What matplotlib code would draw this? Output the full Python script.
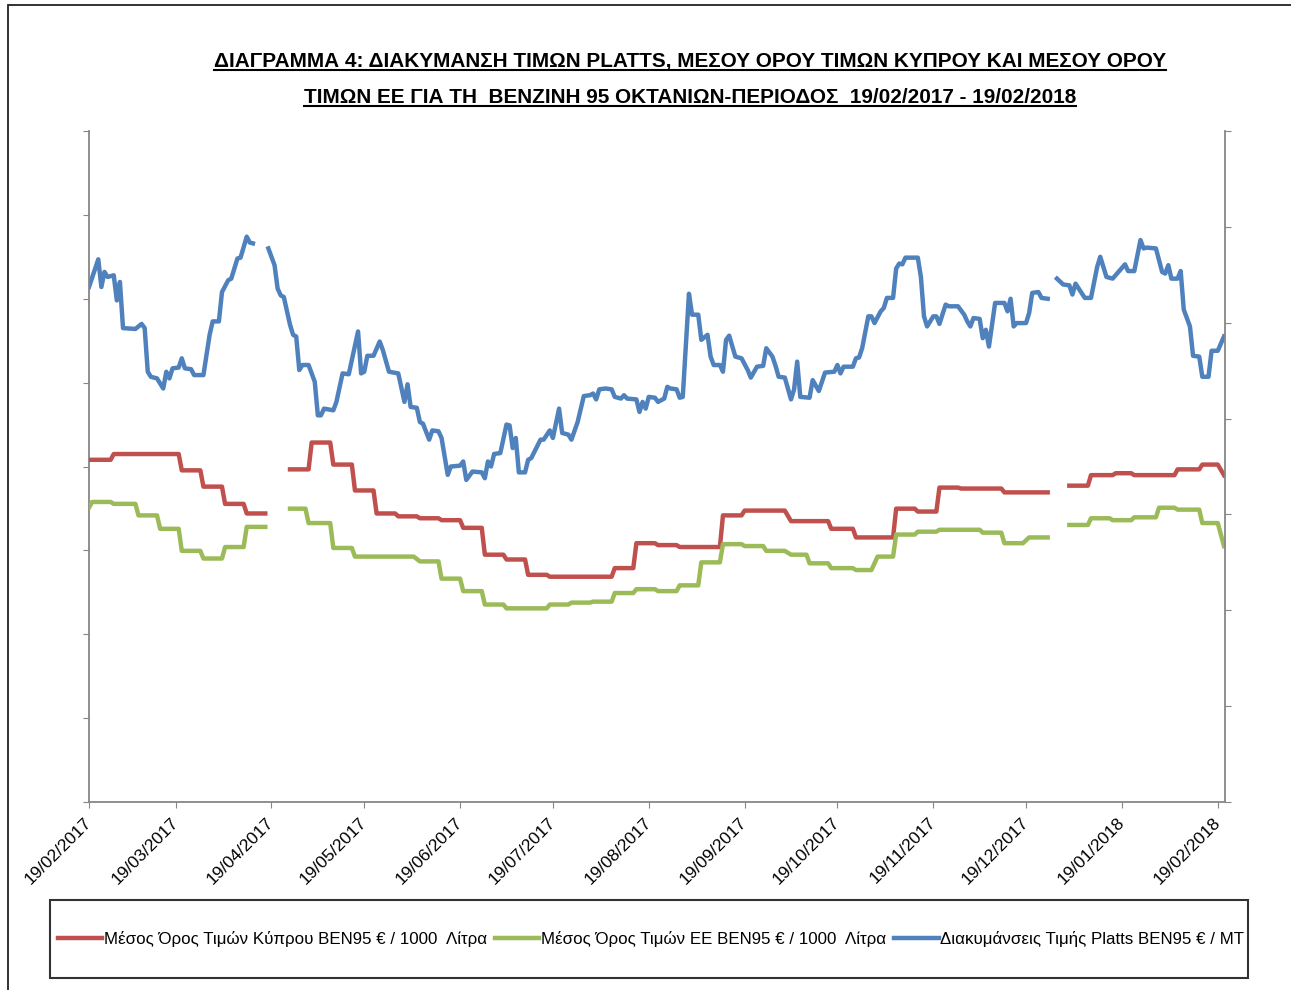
import numpy as np
import matplotlib
matplotlib.use("Agg")
import matplotlib.pyplot as plt
import matplotlib.dates as mdates
from matplotlib.patches import Rectangle
from matplotlib.lines import Line2D

plt.rcParams['font.family'] = ['Liberation Sans', 'DejaVu Sans']

START = np.datetime64('2017-02-19')

title_lines = ["ΔΙΑΓΡΑΜΜΑ 4: ΔΙΑΚΥΜΑΝΣΗ ΤΙΜΩΝ PLATTS, ΜΕΣΟΥ ΟΡΟΥ ΤΙΜΩΝ ΚΥΠΡΟΥ ΚΑΙ ΜΕΣΟΥ ΟΡΟΥ",
               "ΤΙΜΩΝ ΕΕ ΓΙΑ ΤΗ  ΒΕΝΖΙΝΗ 95 ΟΚΤΑΝΙΩΝ-ΠΕΡΙΟΔΟΣ  19/02/2017 - 19/02/2018"]
labels = ["Μέσος Όρος Τιμών Κύπρου ΒΕΝ95 € / 1000  Λίτρα",
          "Μέσος Όρος Τιμών ΕΕ ΒΕΝ95 € / 1000  Λίτρα",
          "Διακυμάνσεις Τιμής Platts ΒΕΝ95 € / MT"]

# weekly averages: (first day, last day, value), None = no data
red_steps = [(0, 7, 557), (8, 29, 563), (30, 36, 546), (37, 43, 529), (44, 50, 511), (51, 57, 501),
             None,
             (65, 71, 547), (72, 78, 575), (79, 85, 552), (86, 92, 525), (93, 99, 501), (100, 106, 498),
             (107, 113, 496), (114, 120, 494), (121, 127, 486), (128, 134, 458), (135, 141, 453),
             (142, 148, 437), (149, 169, 435), (170, 176, 444), (177, 183, 470), (184, 190, 468),
             (191, 204, 466), (205, 211, 499), (212, 225, 504), (227, 239, 493), (240, 247, 485),
             (248, 260, 476), (261, 267, 506), (268, 274, 503), (275, 281, 528), (282, 295, 527),
             (296, 310, 523),
             None,
             (317, 323, 530), (324, 331, 541), (332, 337, 543), (338, 351, 541), (352, 359, 547),
             (360, 365, 552), (367, 367, 541)]

green_steps = [(0, 0, 507), (1, 7, 513), (8, 15, 511), (16, 22, 499), (23, 29, 485), (30, 36, 462),
               (37, 43, 454), (44, 50, 466), (51, 57, 487),
               None,
               (65, 70, 506), (71, 78, 491), (79, 85, 465), (86, 105, 456), (107, 113, 451),
               (114, 120, 433), (121, 127, 420), (128, 134, 406), (135, 148, 402), (149, 155, 406),
               (156, 162, 408), (163, 169, 409), (170, 176, 418), (177, 183, 422), (184, 190, 420),
               (191, 197, 426), (198, 204, 450), (205, 211, 469), (212, 218, 467), (219, 225, 462),
               (227, 232, 458), (233, 239, 449), (240, 247, 444), (248, 253, 442), (255, 260, 456),
               (261, 267, 479), (268, 274, 482), (275, 288, 484), (289, 295, 481), (296, 302, 470),
               (304, 310, 476),
               None,
               (317, 323, 489), (324, 330, 496), (331, 337, 494), (338, 345, 497), (346, 351, 507),
               (352, 359, 505), (360, 365, 491), (367, 367, 467)]

# Platts (day, EUR/MT)
blue = [(0, 614), (3, 647), (4, 614), (5, 632), (6, 626), (8, 628), (9, 598), (10, 620), (11, 565),
        (15, 564), (17, 570), (18, 565), (19, 513), (20, 507), (22, 505), (24, 493), (25, 513),
        (26, 505), (27, 517), (29, 518), (30, 529), (31, 517), (33, 516), (34, 509), (37, 509),
        (39, 557), (40, 573), (42, 573), (43, 608), (45, 622), (46, 624), (48, 648), (49, 649),
        (51, 674), (52, 667), (53, 666), (55, None),
        (58, 660), (60, 640), (61, 612), (62, 604), (63, 602), (65, 569), (66, 557), (67, 555),
        (68, 515), (69, 521), (71, 521), (73, 501), (74, 461), (75, 461), (76, 469), (79, 467),
        (80, 477), (82, 511), (84, 510), (87, 561), (88, 511), (89, 513), (90, 532), (92, 532),
        (94, 549), (95, 539), (97, 513), (100, 511), (102, 477), (103, 498), (104, 471), (106, 470),
        (107, 453), (108, 451), (110, 432), (111, 443), (113, 442), (114, 434), (116, 390),
        (117, 400), (120, 401), (121, 406), (122, 384), (124, 394), (127, 393), (128, 386),
        (129, 406), (130, 400), (131, 415), (133, 416), (135, 450), (136, 449), (137, 422),
        (138, 434), (139, 393), (141, 393), (142, 408), (143, 410), (146, 432), (147, 432),
        (149, 443), (150, 434), (152, 469), (153, 440), (155, 438), (156, 432), (158, 453),
        (160, 484), (162, 485), (163, 487), (164, 480), (165, 492), (167, 493), (169, 492),
        (170, 483), (172, 481), (173, 485), (174, 481), (177, 480), (178, 465), (179, 477),
        (180, 469), (181, 483), (183, 482), (184, 477), (186, 481), (187, 495), (188, 493),
        (190, 492), (191, 482), (192, 483), (194, 606), (195, 581), (197, 581), (198, 551),
        (200, 557), (201, 531), (202, 521), (204, 521), (205, 513), (206, 551), (207, 556),
        (209, 531), (211, 529), (213, 515), (214, 506), (216, 519), (218, 520), (219, 541),
        (221, 531), (222, 520), (223, 507), (225, 506), (227, 480), (228, 492), (229, 525),
        (230, 483), (233, 482), (234, 503), (236, 490), (238, 512), (241, 513), (242, 521),
        (243, 511), (244, 519), (247, 519), (248, 529), (249, 530), (250, 541), (252, 579),
        (253, 579), (254, 571), (256, 585), (257, 589), (258, 601), (260, 601), (261, 636),
        (262, 642), (263, 641), (264, 649), (268, 649), (269, 626), (270, 579), (271, 567),
        (273, 579), (274, 579), (275, 570), (277, 593), (278, 591), (281, 591), (283, 581),
        (284, 573), (285, 567), (286, 577), (288, 576), (289, 553), (290, 563), (291, 543),
        (293, 595), (296, 595), (297, 585), (298, 600), (299, 567), (300, 571), (303, 571),
        (304, 583), (305, 607), (307, 608), (308, 601), (310, 600), (311, None),
        (313, 624), (315, 617), (317, 616), (318, 605), (319, 618), (322, 601), (324, 601),
        (326, 638), (327, 650), (329, 626), (331, 624), (335, 641), (336, 633), (338, 633),
        (340, 670), (341, 660), (342, 661), (345, 660), (347, 632), (348, 630), (349, 640),
        (350, 624), (352, 624), (353, 633), (354, 587), (356, 567), (357, 532), (359, 531),
        (360, 507), (362, 507), (363, 538), (365, 538), (367, 555)]

RED, GREEN, BLUE = '#C0504D', '#9BBB59', '#4F81BD'
AXIS_GREY = '#868686'


def steps_to_xy(steps):
    days, vals = [], []
    for s in steps:
        if s is None:
            days.append(days[-1] + 1)
            vals.append(np.nan)
            continue
        a, b, v = s
        days += [a, b]
        vals += [v, v]
    return START + np.array(days) * np.timedelta64(1, 'D'), np.array(vals, dtype=float)


fig = plt.figure(figsize=(12.91, 9.90), dpi=100)
W, H = 1291, 990

# outer frame of the picture (left and top edges visible)
fig.patches.append(Rectangle((8 / W, -0.1), 1.2, 1.1 - 5 / H, transform=fig.transFigure,
                             fill=False, ec='#222222', lw=1.3))

ax = fig.add_axes([89 / W, 1 - 802 / H, (1225 - 89) / W, (802 - 131) / H])
ax2 = ax.twinx()

bx = START + np.array([d for d, _ in blue]) * np.timedelta64(1, 'D')
by = np.array([np.nan if v is None else v for _, v in blue], dtype=float)
rx, ry = steps_to_xy(red_steps)
gx, gy = steps_to_xy(green_steps)

lb, = ax.plot(bx, by, color=BLUE, lw=3.2, solid_joinstyle='round')
lr, = ax2.plot(rx, ry, color=RED, lw=3.2, solid_joinstyle='round')
lg, = ax2.plot(gx, gy, color=GREEN, lw=3.2, solid_joinstyle='round')

ax.set_ylim(0, 800)
ax.set_yticks(np.arange(0, 801, 100))
ax2.set_ylim(200, 900)
ax2.set_yticks(np.arange(200, 901, 100))
ax.set_xlim(START, START + np.timedelta64(367, 'D') + np.timedelta64(8, 'h'))

month_ticks = [np.datetime64(f'2017-{m:02d}-19') for m in range(2, 13)] + \
              [np.datetime64('2018-01-19'), np.datetime64('2018-02-19')]
ax.set_xticks(month_ticks)
ax.xaxis.set_major_formatter(mdates.DateFormatter('%d/%m/%Y'))
plt.setp(ax.get_xticklabels(), rotation=45, ha='right', va='center', rotation_mode='anchor',
         fontsize=12.5)

for a in (ax, ax2):
    for sp in a.spines.values():
        sp.set_visible(False)
    a.set_facecolor('none')
ax.spines['left'].set_visible(True)
ax.spines['bottom'].set_visible(True)
ax2.spines['right'].set_visible(True)
for sp in (ax.spines['left'], ax.spines['bottom'], ax2.spines['right']):
    sp.set_color(AXIS_GREY)
    sp.set_linewidth(1.3)

ax.tick_params(axis='y', direction='out', length=4, color=AXIS_GREY, labelleft=False)
ax.tick_params(axis='x', direction='out', length=4, color=AXIS_GREY, pad=9)
ax2.tick_params(axis='y', direction='out', length=4, color=AXIS_GREY, labelright=False)

# title, bold and underlined
renderer = fig.canvas.get_renderer()
t1 = fig.text(690 / W, 1 - 67 / H, title_lines[0], ha='center', va='baseline',
              fontsize=17, fontweight='bold')
w1 = t1.get_window_extent(renderer).width
size = 17 * 956 / w1
t1.set_fontsize(size)
t2 = fig.text(690 / W, 1 - 103 / H, title_lines[1], ha='center', va='baseline',
              fontsize=size, fontweight='bold')
for t, base in ((t1, 67), (t2, 103)):
    bb = t.get_window_extent(renderer)
    yl = 1 - (base + 3) / H
    fig.lines.append(Line2D([bb.x0 / W, bb.x1 / W], [yl, yl], transform=fig.transFigure,
                            color='black', lw=1.5))

# legend
fig.patches.append(Rectangle((50 / W, 1 - 978 / H), 1198 / W, 78 / H, transform=fig.transFigure,
                             fill=False, ec='#333333', lw=1.5))
fig.legend([lr, lg, lb], labels, loc='center', bbox_to_anchor=(651 / W, 1 - 939 / H),
           ncol=3, frameon=False, fontsize=12.2, handlelength=2.6, handletextpad=0.1,
           columnspacing=0.5, borderpad=0)

fig.savefig('out.png', dpi=100)
